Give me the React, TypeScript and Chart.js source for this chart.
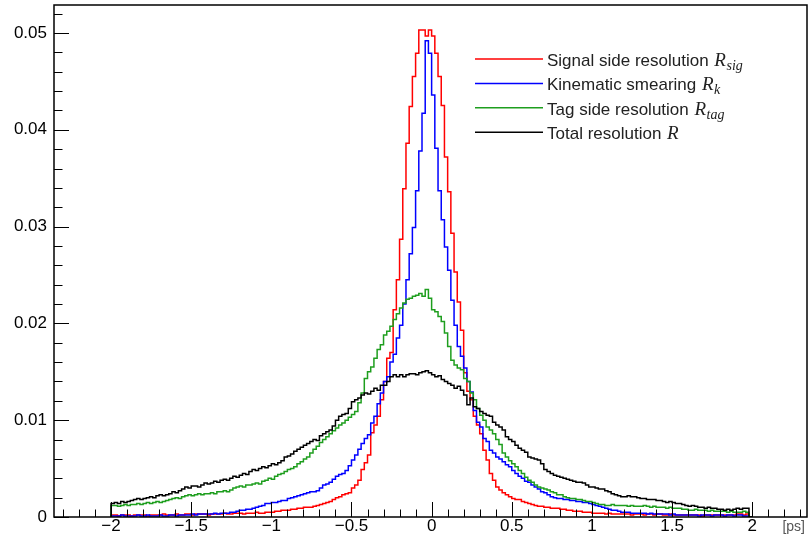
import React, { useEffect, useRef } from "react";
import { Chart, registerables } from "chart.js";

Chart.register(...registerables);

// ---------- data ----------
const X_MIN = -2;
const BIN_WIDTH = 0.02;

const xTickValues = [-2, -1.5, -1, -0.5, 0, 0.5, 1, 1.5, 2];
const xTickLabels = ["\u22122", "\u22121.5", "\u22121", "\u22120.5", "0", "0.5", "1", "1.5", "2"];
const yTickValues = [0, 0.01, 0.02, 0.03, 0.04, 0.05];
const yTickLabels = ["0", "0.01", "0.02", "0.03", "0.04", "0.05"];

const seriesLabels = ["Signal side resolution", "Kinematic smearing", "Tag side resolution", "Total resolution"];
const seriesSubscripts = ["sig", "k", "tag", ""];
const seriesColors = ["#ff0000", "#0000ff", "#1e9e1e", "#000000"];
const axisUnit = "[ps]";

// 200 bins of 0.02 from -2 to 2
const signalSide = [
  0.0001,0.0002,0.0002,0.0001,0.0002,0.0002,0.0002,0.0001,0.0002,0.0002,0.0002,0.0002,0.0001,0.0002,0.0002,0.0002,0.0002,0.0003,0.0002,0.0002,
  0.0002,0.0003,0.0002,0.0002,0.0003,0.0003,0.0002,0.0003,0.0003,0.0003,0.0003,0.0002,0.0003,0.0003,0.0003,0.0003,0.0004,0.0003,0.0003,0.0004,
  0.0004,0.0004,0.0003,0.0004,0.0004,0.0004,0.0005,0.0004,0.0004,0.0005,0.0005,0.0005,0.0006,0.0006,0.0007,0.0007,0.0007,0.0008,0.0008,0.0009,
  0.0009,0.0010,0.0010,0.0010,0.0011,0.0012,0.0013,0.0014,0.0015,0.0016,0.0018,0.0020,0.0021,0.0023,0.0024,0.0025,0.0030,0.0033,0.0038,0.0049,
  0.0056,0.0064,0.0087,0.0095,0.0104,0.0121,0.0140,0.0164,0.0170,0.0214,0.0245,0.0287,0.0339,0.0386,0.0424,0.0455,0.0479,0.0503,0.0503,0.0497,
  0.0503,0.0497,0.0479,0.0455,0.0425,0.0372,0.0336,0.0293,0.0253,0.0222,0.0193,0.0149,0.0130,0.0121,0.0104,0.0095,0.0086,0.0069,0.0059,0.0045,
  0.0038,0.0031,0.0028,0.0025,0.0023,0.0021,0.0019,0.0018,0.0018,0.0016,0.0015,0.0014,0.0013,0.0012,0.0011,0.0011,0.0010,0.0010,0.0009,0.0009,
  0.0009,0.0008,0.0008,0.0007,0.0007,0.0006,0.0006,0.0006,0.0005,0.0005,0.0005,0.0004,0.0004,0.0004,0.0004,0.0003,0.0004,0.0003,0.0003,0.0003,
  0.0003,0.0003,0.0003,0.0002,0.0003,0.0003,0.0003,0.0002,0.0003,0.0003,0.0002,0.0003,0.0003,0.0002,0.0002,0.0003,0.0002,0.0002,0.0002,0.0002,
  0.0002,0.0002,0.0002,0.0002,0.0002,0.0001,0.0002,0.0002,0.0002,0.0002,0.0002,0.0002,0.0002,0.0002,0.0002,0.0002,0.0003,0.0003,0.0002,0.0003,
];

const kinematicSmearing = [
  0.0001,0.0001,0.0001,0.0001,0.0002,0.0001,0.0001,0.0001,0.0001,0.0002,0.0001,0.0001,0.0002,0.0001,0.0001,0.0001,0.0002,0.0001,0.0001,0.0002,
  0.0002,0.0001,0.0002,0.0002,0.0002,0.0002,0.0003,0.0002,0.0003,0.0003,0.0003,0.0003,0.0003,0.0004,0.0003,0.0004,0.0004,0.0004,0.0005,0.0005,
  0.0006,0.0007,0.0007,0.0008,0.0008,0.0009,0.0010,0.0011,0.0012,0.0014,0.0014,0.0015,0.0015,0.0016,0.0017,0.0017,0.0019,0.0020,0.0021,0.0022,
  0.0023,0.0024,0.0025,0.0026,0.0026,0.0027,0.0030,0.0033,0.0034,0.0036,0.0039,0.0042,0.0044,0.0045,0.0048,0.0053,0.0059,0.0064,0.0070,0.0076,
  0.0081,0.0085,0.0097,0.0104,0.0117,0.0128,0.0140,0.0145,0.0160,0.0168,0.0185,0.0198,0.0220,0.0245,0.0272,0.0299,0.0337,0.0378,0.0417,0.0492,
  0.0479,0.0436,0.0381,0.0337,0.0307,0.0279,0.0255,0.0224,0.0198,0.0176,0.0166,0.0154,0.0140,0.0129,0.0110,0.0098,0.0093,0.0081,0.0078,0.0069,
  0.0066,0.0062,0.0060,0.0057,0.0054,0.0052,0.0048,0.0045,0.0042,0.0040,0.0037,0.0036,0.0033,0.0031,0.0029,0.0026,0.0025,0.0023,0.0021,0.0020,
  0.0019,0.0019,0.0018,0.0018,0.0017,0.0017,0.0016,0.0016,0.0015,0.0015,0.0014,0.0013,0.0012,0.0011,0.0010,0.0009,0.0008,0.0007,0.0007,0.0006,
  0.0005,0.0005,0.0005,0.0004,0.0004,0.0004,0.0004,0.0004,0.0003,0.0004,0.0003,0.0003,0.0003,0.0003,0.0003,0.0002,0.0003,0.0002,0.0002,0.0002,
  0.0002,0.0002,0.0002,0.0002,0.0001,0.0002,0.0002,0.0002,0.0001,0.0002,0.0002,0.0002,0.0001,0.0002,0.0002,0.0001,0.0002,0.0002,0.0001,0.0001,
];

const tagSide = [
  0.0011,0.0012,0.0012,0.0011,0.0012,0.0013,0.0012,0.0013,0.0013,0.0014,0.0013,0.0014,0.0015,0.0014,0.0015,0.0016,0.0015,0.0016,0.0017,0.0018,
  0.0019,0.0020,0.0019,0.0021,0.0022,0.0023,0.0022,0.0023,0.0024,0.0023,0.0024,0.0024,0.0025,0.0024,0.0026,0.0026,0.0027,0.0026,0.0028,0.0030,
  0.0031,0.0032,0.0031,0.0033,0.0033,0.0034,0.0035,0.0034,0.0037,0.0038,0.0040,0.0039,0.0042,0.0044,0.0045,0.0047,0.0049,0.0050,0.0052,0.0055,
  0.0057,0.0060,0.0062,0.0066,0.0070,0.0073,0.0077,0.0080,0.0083,0.0086,0.0089,0.0092,0.0095,0.0097,0.0100,0.0103,0.0106,0.0109,0.0118,0.0128,
  0.0143,0.0150,0.0155,0.0164,0.0173,0.0178,0.0188,0.0192,0.0197,0.0204,0.0210,0.0216,0.0221,0.0225,0.0226,0.0228,0.0229,0.0231,0.0228,0.0235,
  0.0226,0.0214,0.0212,0.0207,0.0202,0.0190,0.0176,0.0162,0.0157,0.0154,0.0152,0.0143,0.0140,0.0128,0.0121,0.0112,0.0105,0.0100,0.0093,0.0090,
  0.0086,0.0080,0.0075,0.0066,0.0062,0.0058,0.0055,0.0052,0.0048,0.0045,0.0041,0.0038,0.0036,0.0033,0.0031,0.0030,0.0029,0.0028,0.0026,0.0025,
  0.0023,0.0023,0.0021,0.0020,0.0019,0.0019,0.0018,0.0018,0.0017,0.0016,0.0016,0.0015,0.0014,0.0013,0.0013,0.0012,0.0012,0.0013,0.0012,0.0012,
  0.0012,0.0012,0.0011,0.0012,0.0011,0.0011,0.0011,0.0012,0.0011,0.0010,0.0011,0.0010,0.0010,0.0010,0.0009,0.0010,0.0009,0.0009,0.0009,0.0008,
  0.0008,0.0007,0.0007,0.0008,0.0007,0.0007,0.0007,0.0006,0.0007,0.0006,0.0006,0.0006,0.0006,0.0005,0.0006,0.0005,0.0005,0.0005,0.0006,0.0005,
];

const totalResolution = [
  0.0014,0.0014,0.0015,0.0014,0.0016,0.0015,0.0016,0.0017,0.0018,0.0019,0.0018,0.0019,0.0020,0.0021,0.0020,0.0022,0.0023,0.0022,0.0023,0.0024,
  0.0026,0.0025,0.0027,0.0029,0.0031,0.0030,0.0032,0.0032,0.0031,0.0033,0.0035,0.0034,0.0035,0.0037,0.0036,0.0038,0.0039,0.0038,0.0040,0.0042,
  0.0041,0.0043,0.0045,0.0044,0.0047,0.0049,0.0048,0.0050,0.0052,0.0051,0.0053,0.0055,0.0054,0.0056,0.0058,0.0062,0.0063,0.0065,0.0068,0.0070,
  0.0072,0.0074,0.0076,0.0078,0.0080,0.0079,0.0084,0.0086,0.0088,0.0090,0.0094,0.0100,0.0104,0.0106,0.0107,0.0112,0.0119,0.0121,0.0123,0.0126,
  0.0128,0.0127,0.0130,0.0133,0.0131,0.0136,0.0136,0.0140,0.0145,0.0147,0.0145,0.0147,0.0145,0.0147,0.0148,0.0148,0.0147,0.0149,0.0150,0.0151,
  0.0149,0.0147,0.0145,0.0146,0.0142,0.0140,0.0138,0.0136,0.0133,0.0135,0.0131,0.0126,0.0116,0.0123,0.0114,0.0112,0.0109,0.0107,0.0105,0.0104,
  0.0098,0.0095,0.0093,0.0090,0.0083,0.0080,0.0078,0.0074,0.0071,0.0069,0.0067,0.0062,0.0061,0.0060,0.0059,0.0055,0.0049,0.0047,0.0045,0.0043,
  0.0042,0.0041,0.0040,0.0039,0.0038,0.0037,0.0036,0.0036,0.0035,0.0033,0.0031,0.0031,0.0030,0.0029,0.0029,0.0027,0.0026,0.0024,0.0023,0.0022,
  0.0021,0.0021,0.0022,0.0021,0.0021,0.0020,0.0019,0.0019,0.0018,0.0018,0.0018,0.0017,0.0017,0.0016,0.0015,0.0016,0.0015,0.0014,0.0014,0.0013,
  0.0012,0.0011,0.0012,0.0011,0.0010,0.0010,0.0009,0.0010,0.0009,0.0009,0.0008,0.0008,0.0007,0.0008,0.0007,0.0008,0.0009,0.0008,0.0009,0.0009,
];

const allSeries = [signalSide, kinematicSmearing, tagSide, totalResolution];

// ---------- helpers ----------
function histPoints(values: number[]) {
  const pts: { x: number; y: number }[] = [{ x: X_MIN, y: 0 }];
  values.forEach((v, i) => pts.push({ x: X_MIN + i * BIN_WIDTH, y: v }));
  pts.push({ x: X_MIN + values.length * BIN_WIDTH, y: 0 });
  return pts;
}

const rootFramePlugin = {
  id: "rootFrame",
  afterDatasetsDraw(chart: any) {
    const { ctx, chartArea: a, scales } = chart;
    const xs = scales.x;
    const ys = scales.y;
    ctx.save();
    ctx.strokeStyle = "#000";
    ctx.lineWidth = 1;
    // x ticks (inward)
    for (let k = -23; k <= 23; k++) {
      const px = Math.round(xs.getPixelForValue(k / 10)) + 0.5;
      const len = k % 5 === 0 ? 15 : 7.5;
      ctx.beginPath();
      ctx.moveTo(px, a.bottom);
      ctx.lineTo(px, a.bottom - len);
      ctx.stroke();
    }
    // y ticks (inward)
    for (let k = 0; k <= 26; k++) {
      const py = Math.round(ys.getPixelForValue(k * 0.002)) + 0.5;
      const len = k % 5 === 0 ? 15 : 8.5;
      ctx.beginPath();
      ctx.moveTo(a.left, py);
      ctx.lineTo(a.left + len, py);
      ctx.stroke();
    }
    ctx.lineWidth = 1.5;
    ctx.strokeRect(a.left, a.top, a.right - a.left, a.bottom - a.top);

    // unit label
    ctx.fillStyle = "#555";
    ctx.font = '14px "Liberation Sans", Arial, sans-serif';
    ctx.textAlign = "right";
    ctx.textBaseline = "alphabetic";
    ctx.fillText(axisUnit, 805, 531);
    ctx.restore();
  },
  afterDraw(chart: any) {
    const { ctx } = chart;
    ctx.save();
    const lineX0 = 475;
    const lineX1 = 543;
    const textX = 547;
    for (let i = 0; i < seriesLabels.length; i++) {
      const ly = 59 + 24.4 * i;
      const by = ly + 6.8;
      ctx.strokeStyle = seriesColors[i];
      ctx.lineWidth = 1.5;
      ctx.beginPath();
      ctx.moveTo(lineX0, ly);
      ctx.lineTo(lineX1, ly);
      ctx.stroke();

      ctx.fillStyle = "#222";
      ctx.textAlign = "left";
      ctx.textBaseline = "alphabetic";
      ctx.font = '17px "Liberation Sans", Arial, sans-serif';
      const label = seriesLabels[i] + " ";
      ctx.fillText(label, textX, by);
      let cx = textX + ctx.measureText(label).width + 1;
      ctx.font = 'italic 19px "Liberation Serif", "DejaVu Serif", serif';
      ctx.fillText("R", cx, by);
      cx += ctx.measureText("R").width + 0.5;
      if (seriesSubscripts[i]) {
        ctx.font = 'italic 14px "Liberation Serif", "DejaVu Serif", serif';
        ctx.fillText(seriesSubscripts[i], cx, by + 4);
      }
    }
    ctx.restore();
  },
};

export default function App() {
  const canvasRef = useRef<HTMLCanvasElement | null>(null);

  useEffect(() => {
    const canvas = canvasRef.current;
    if (!canvas) return;
    const tickFont = { family: '"Liberation Sans", Arial, sans-serif', size: 17, lineHeight: 1 };
    const chart = new Chart(canvas, {
      type: "line",
      data: {
        datasets: allSeries.map((vals, i) => ({
          label: seriesLabels[i],
          data: histPoints(vals),
          borderColor: seriesColors[i],
          backgroundColor: seriesColors[i],
          borderWidth: 1.5,
          pointRadius: 0,
          stepped: "after" as const,
          fill: false,
          order: allSeries.length - i,
        })),
      },
      options: {
        responsive: false,
        maintainAspectRatio: false,
        devicePixelRatio: 1,
        animation: false,
        events: [],
        layout: { padding: { top: 5, right: 1, left: 0, bottom: 0 } },
        plugins: {
          legend: { display: false },
          tooltip: { enabled: false },
        },
        scales: {
          x: {
            type: "linear",
            min: -2.356,
            max: 2.342,
            grid: { display: false, drawTicks: false },
            border: { display: false },
            ticks: {
              font: tickFont,
              color: "#000",
              padding: 1,
              maxRotation: 0,
              autoSkip: false,
              callback: (value: any) => {
                const idx = xTickValues.findIndex((t) => Math.abs(t - Number(value)) < 1e-9);
                return idx >= 0 ? xTickLabels[idx] : "";
              },
            },
            afterBuildTicks: (s: any) => {
              s.ticks = xTickValues.map((v) => ({ value: v }));
            },
            afterFit: (s: any) => {
              s.height = 25;
              s.paddingLeft = 0;
              s.paddingRight = 0;
            },
          },
          y: {
            type: "linear",
            min: 0,
            max: 0.05289,
            grid: { display: false, drawTicks: false },
            border: { display: false },
            ticks: {
              font: tickFont,
              color: "#000",
              padding: 7,
              autoSkip: false,
              callback: (value: any) => {
                const idx = yTickValues.findIndex((t) => Math.abs(t - Number(value)) < 1e-9);
                return idx >= 0 ? yTickLabels[idx] : "";
              },
            },
            afterBuildTicks: (s: any) => {
              s.ticks = yTickValues.map((v) => ({ value: v }));
            },
            afterFit: (s: any) => {
              s.width = 54;
              s.paddingTop = 0;
              s.paddingBottom = 0;
            },
          },
        },
      },
      plugins: [rootFramePlugin],
    });
    return () => chart.destroy();
  }, []);

  return (
    <div style={{ position: "absolute", left: 0, top: 0, width: 808, height: 542, background: "#fff" }}>
      <canvas ref={canvasRef} width={808} height={542} style={{ display: "block" }} />
    </div>
  );
}
